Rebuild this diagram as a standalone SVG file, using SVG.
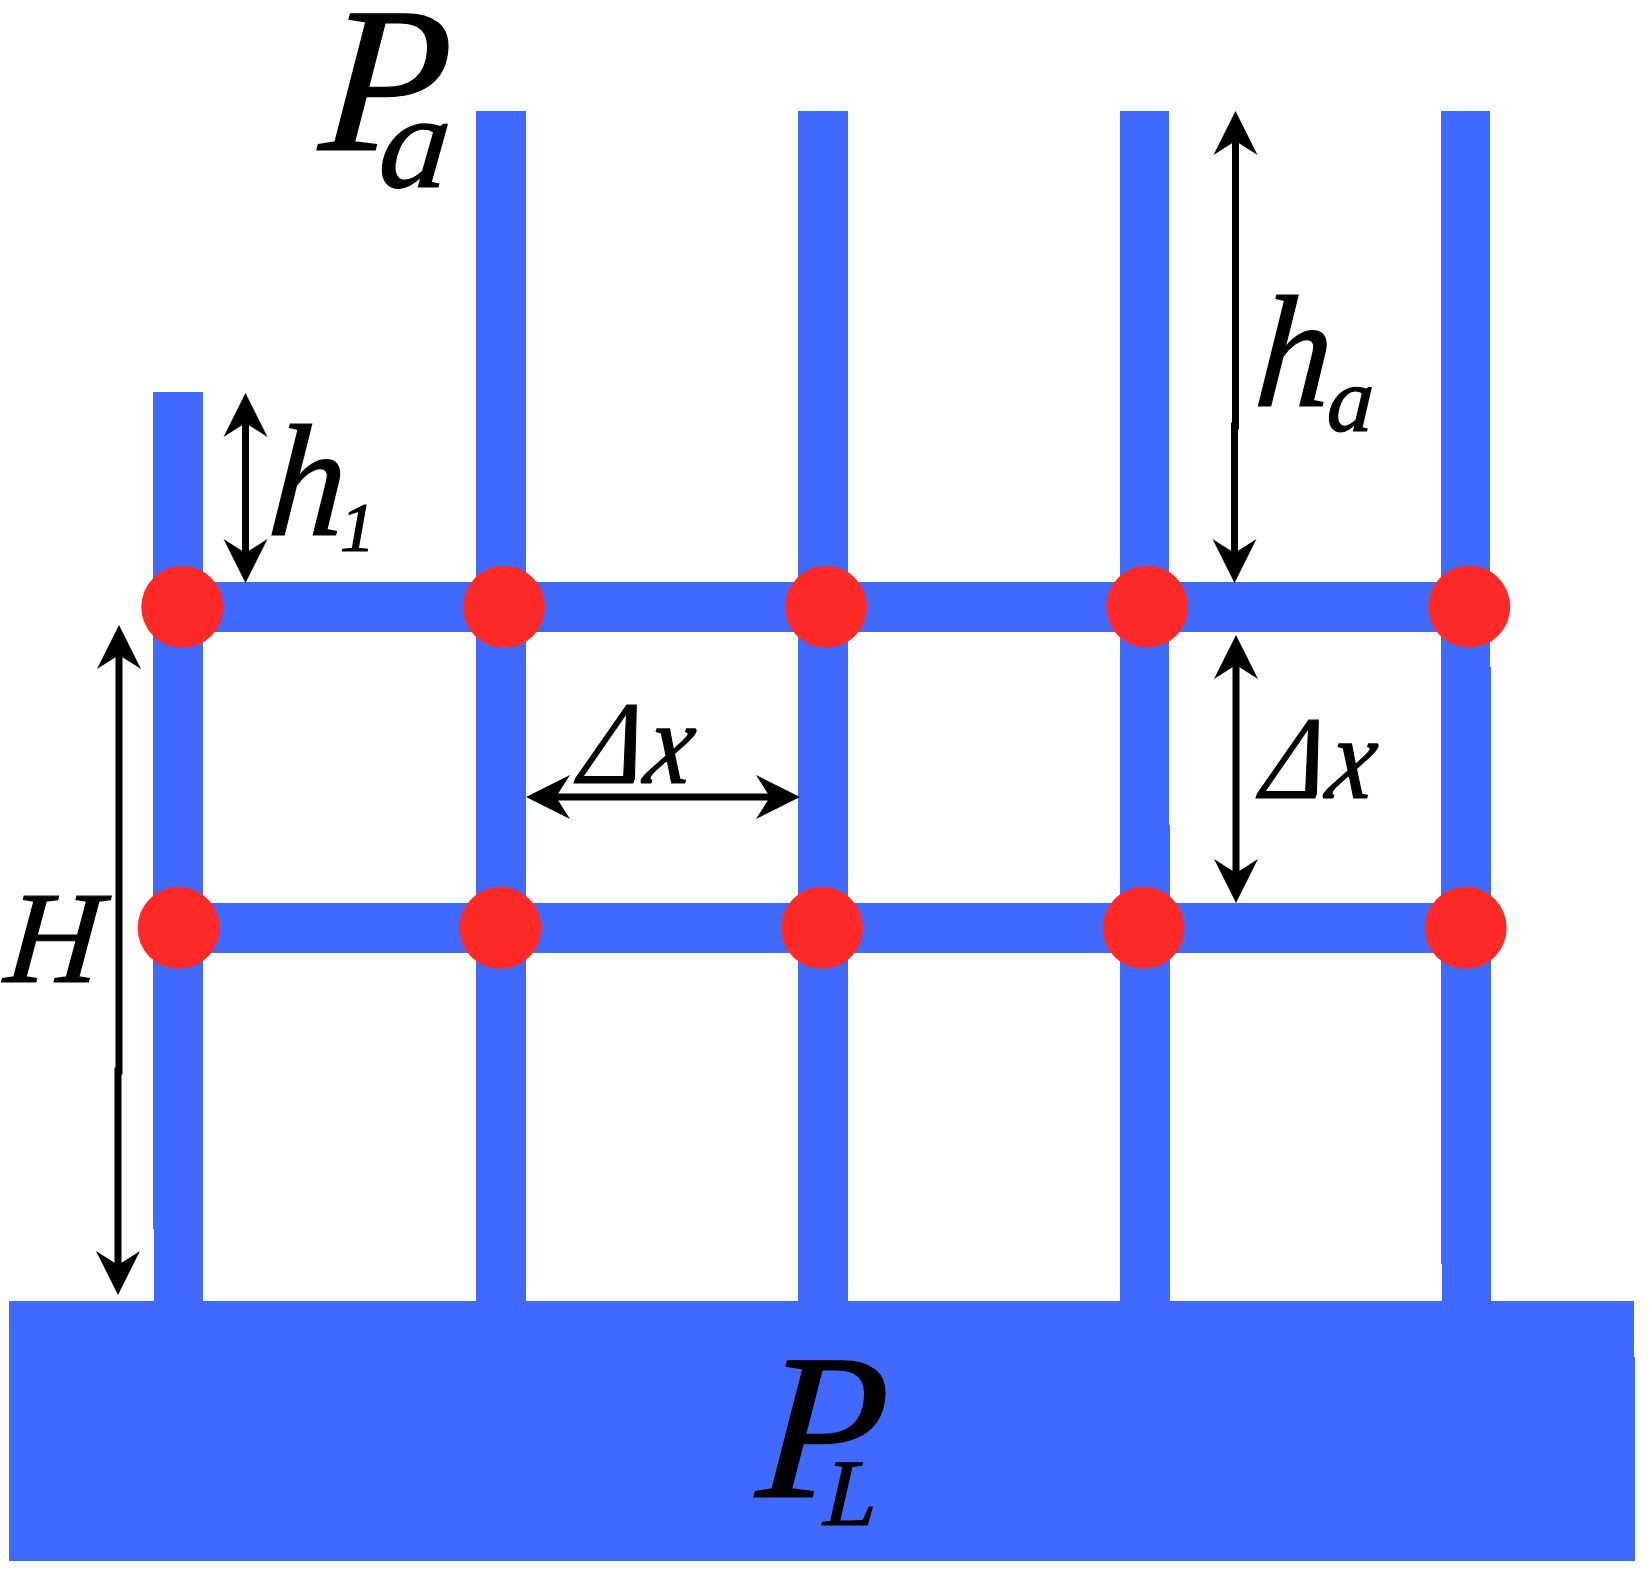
<svg xmlns="http://www.w3.org/2000/svg" width="1651" height="1577" viewBox="0 0 1651 1577">
<style>
.ch{fill:#4069ff}
.j{fill:#ff2a27}
.dim{fill:none;stroke:#000;stroke-width:7;marker-start:url(#head);marker-end:url(#head)}
text{font-family:"Liberation Serif","Times New Roman",serif;font-style:italic;fill:#000;stroke:#000;stroke-width:1.2}
</style>
<defs>
<marker id="head" markerUnits="userSpaceOnUse" markerWidth="44" markerHeight="44" refX="14" refY="22" orient="auto-start-reverse" overflow="visible">
<path d="M0 0L44 22L0 44L14 22Z" fill="#000" stroke="none"/>
</marker>
</defs>
<rect width="1651" height="1577" fill="#fff"/>
<g id="channels">
<path class="ch" d="M153 392H203V1301H154V1229H153Z"/>
<rect class="ch" x="476" y="111" width="50" height="1190"/>
<rect class="ch" x="798" y="111" width="50" height="1190"/>
<path class="ch" d="M1120 111H1169V825H1170V1301H1120Z"/>
<path class="ch" d="M1441 111H1490V667H1491V1301H1442V1264H1441Z"/>
<rect class="ch" x="170" y="582" width="1300" height="50"/>
<rect class="ch" x="170" y="903" width="1296" height="50"/>
<path id="reservoir" class="ch" d="M9 1301H1634V1357H1635V1561H9Z"/>
</g>
<g id="junctions">
<g id="j11"><circle class="j" cx="182.3" cy="607" r="41"/></g>
<g id="j12"><circle class="j" cx="504" cy="607" r="41"/></g>
<g id="j13"><circle class="j" cx="826" cy="607" r="41"/></g>
<g id="j14"><circle class="j" cx="1147.2" cy="606.7" r="41"/></g>
<g id="j15"><circle class="j" cx="1469.2" cy="606.7" r="41"/></g>
<g id="j21"><circle class="j" cx="178.6" cy="928" r="41"/></g>
<g id="j22"><circle class="j" cx="500.3" cy="928" r="41"/></g>
<g id="j23"><circle class="j" cx="822" cy="928" r="41"/></g>
<g id="j24"><circle class="j" cx="1143.6" cy="928" r="41"/></g>
<g id="j25"><circle class="j" cx="1465.7" cy="928" r="41"/></g>
</g>
<g id="dimensions">
<path class="dim" d="M245.5 423V553"/>
<path class="dim" d="M119 655V1071H118V1265"/>
<path class="dim" d="M556 797H770"/>
<path class="dim" d="M1235.5 141V426H1234.5V553"/>
<path class="dim" d="M1236 665V873"/>
</g>
<g id="labels">
<text transform="matrix(1 0 -.08 1 318 150)" font-size="208">P</text>
<text transform="matrix(1.05 0 -.09 1 376.5 186.5)" font-size="134">a</text>
<text transform="matrix(.95 0 -.08 1 266.5 535)" font-size="160">h</text>
<text x="340" y="551" font-size="70">1</text>
<text transform="matrix(.95 0 -.08 1 1253 405.5)" font-size="160">h</text>
<text transform="matrix(1 0 -.05 1 1326 430.5)" font-size="93">a</text>
<text transform="matrix(.88 0 -.17 1 577.5 783)" font-size="118">Δ<tspan dx="4">x</tspan></text>
<text transform="matrix(.88 0 -.17 1 1259.5 797.5)" font-size="118">Δ<tspan dx="4">x</tspan></text>
<text transform="matrix(1 0 -.09 1 3 982)" font-size="131">H</text>
<text transform="matrix(1 0 -.08 1 755 1497)" font-size="208">P</text>
<text transform="matrix(1 0 -.05 1 823 1525)" font-size="95">L</text>
</g>
</svg>
